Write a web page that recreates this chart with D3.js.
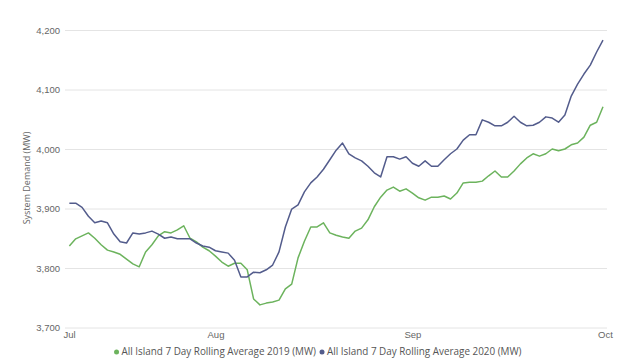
<!DOCTYPE html>
<html>
<head>
<meta charset="utf-8">
<script src="https://cdn.jsdelivr.net/npm/d3@7"></script>
<style>
  html, body { margin: 0; padding: 0; background: #fff; }
  svg { display: block; font-family: 'Segoe UI', 'Open Sans', sans-serif; }
</style>
</head>
<body>
<svg id="chart"></svg>
<script>
// daily 7-day rolling averages, 9 Jul -> 1 Oct
const startDate = '2020-07-09';
const demand2019 = [
  3837, 3849, 3854, 3859, 3850, 3839, 3830, 3827, 3823, 3815,
  3807, 3802, 3827, 3839, 3854, 3861, 3859, 3864, 3871, 3850,
  3844, 3835, 3829, 3820, 3810, 3803, 3808, 3808, 3797, 3748,
  3738, 3741, 3743, 3746, 3765, 3773, 3817, 3845, 3869, 3869,
  3876, 3859, 3855, 3852, 3850, 3862, 3867, 3881, 3903, 3919,
  3931, 3936, 3929, 3933, 3926, 3918, 3914, 3919, 3919, 3921,
  3916, 3926, 3943, 3944, 3944, 3946, 3955, 3963, 3953, 3953,
  3963, 3975, 3985, 3992, 3988, 3992, 4000, 3997, 4000, 4007,
  4010, 4020, 4040, 4045, 4071
];
const demand2020 = [
  3909, 3909, 3902, 3887, 3876, 3879, 3876, 3857, 3844, 3842,
  3859, 3857, 3859, 3862, 3857, 3850, 3852, 3849, 3849, 3849,
  3842, 3837, 3835, 3829, 3827, 3825, 3813, 3785, 3785, 3793,
  3792, 3797, 3805, 3827, 3869, 3899, 3906, 3928, 3943, 3953,
  3966, 3982, 3998, 4010, 3992, 3985, 3980, 3971, 3960, 3953,
  3987, 3987, 3983, 3987, 3976, 3971, 3980, 3971, 3971, 3982,
  3992, 4000, 4015, 4024, 4024, 4049, 4045, 4039, 4039, 4045,
  4055, 4045, 4039, 4040, 4045, 4054, 4052, 4045, 4057, 4089,
  4109, 4126, 4141, 4163, 4183
];
const yTicks = [3700, 3800, 3900, 4000, 4100, 4200];
const xTickDates = ['2020-07-08', '2020-08-01', '2020-09-01', '2020-10-01'];
const seriesNames = [
  'All Island 7 Day Rolling Average 2019 (MW)',
  'All Island 7 Day Rolling Average 2020 (MW)'
];
const seriesColors = ['#6cb35d', '#535c8c'];

const width = 620, height = 364;
const parse = d3.utcParse('%Y-%m-%d');
const day0 = parse(startDate);
const dates = demand2019.map((_, i) => d3.utcDay.offset(day0, i));

const svg = d3.select('#chart').attr('width', width).attr('height', height);

const x = d3.scaleUtc()
  .domain([parse('2020-07-08'), parse('2020-10-01')])
  .range([63, 603]);
const y = d3.scaleLinear().domain([3700, 4200]).range([327.5, 30]);

// gridlines
svg.append('g')
  .attr('transform', 'translate(65,0)')
  .call(d3.axisRight(y).tickValues(yTicks).tickSize(542).tickFormat(''))
  .call(g => g.select('.domain').remove())
  .selectAll('line').attr('stroke', '#e4e4e4');

// y axis labels
svg.append('g')
  .attr('transform', 'translate(65,0)')
  .call(d3.axisLeft(y).tickValues(yTicks).tickSize(0).tickPadding(5).tickFormat(d3.format(',')))
  .call(g => g.select('.domain').remove())
  .selectAll('text')
  .attr('fill', '#666')
  .style('font-size', '9.5px');

// x axis labels
const xAxis = svg.append('g')
  .attr('transform', 'translate(0,327.5)')
  .call(d3.axisBottom(x).tickValues(xTickDates.map(parse)).tickSize(0).tickPadding(4)
    .tickFormat(d3.utcFormat('%b')));
xAxis.select('.domain').remove();
xAxis.selectAll('text')
  .attr('fill', '#666')
  .style('font-size', '9.5px')
  .attr('text-anchor', (d, i) => i === 0 ? 'start' : 'middle')
  .attr('x', (d, i) => i === 3 ? 2 : 0);

// y axis title
svg.append('text')
  .attr('transform', 'translate(30,178) rotate(-90)')
  .attr('text-anchor', 'middle')
  .attr('fill', '#666')
  .style('font-size', '9px')
  .text('System Demand (MW)');

// lines
const line = d3.line()
  .x((d, i) => x(dates[i]))
  .y(d => y(d));

[demand2019, demand2020].forEach((s, k) => {
  svg.append('path')
    .datum(s)
    .attr('fill', 'none')
    .attr('stroke', seriesColors[k])
    .attr('stroke-width', 1.5)
    .attr('stroke-linejoin', 'round')
    .attr('d', line);
});

// legend
const legend = svg.append('g').attr('transform', 'translate(0,355)');
const items = legend.selectAll('g').data(seriesNames).enter().append('g');
items.append('circle')
  .attr('r', 2.5)
  .attr('cy', -3)
  .attr('fill', (d, i) => seriesColors[i]);
items.append('text')
  .attr('x', 5)
  .attr('fill', '#555')
  .style('font-size', '9.9px')
  .text(d => d);
let offset = 0;
const widths = [];
items.each(function () {
  widths.push(this.querySelector('text').getComputedTextLength() + 11);
});
const total = d3.sum(widths);
let start = 322 - total / 2;
items.attr('transform', (d, i) => {
  const t = `translate(${start + offset},0)`;
  offset += widths[i];
  return t;
});
</script>
</body>
</html>
